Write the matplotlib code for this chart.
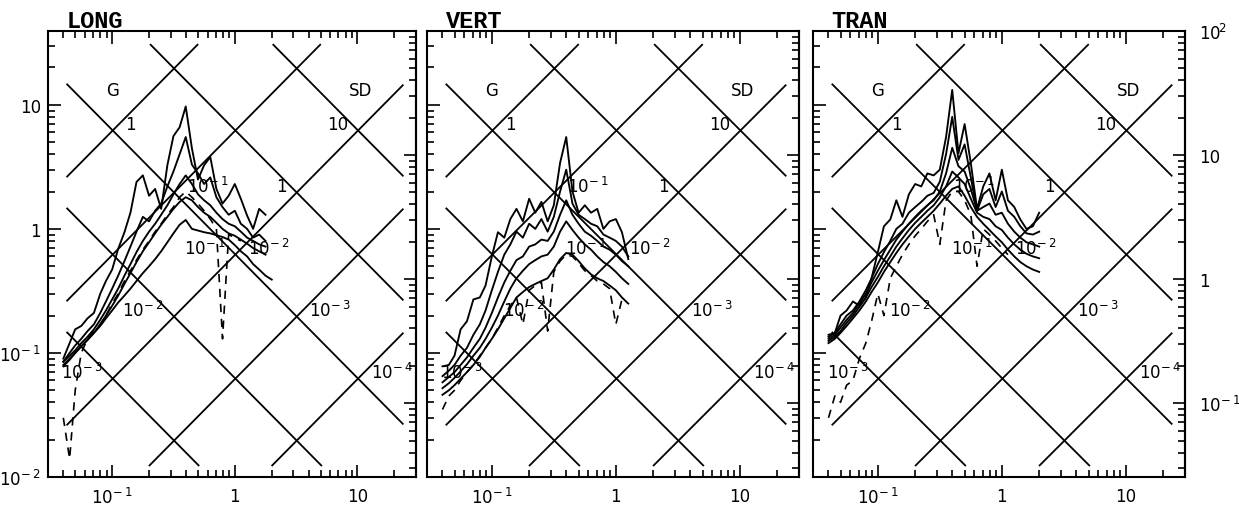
"""Tripartite response spectra (LONG / VERT / TRAN) for several damping levels."""

import numpy as np
import matplotlib.pyplot as plt
from matplotlib.ticker import FixedLocator, FixedFormatter, LogLocator, NullFormatter

plt.rcParams['font.family'] = ['DejaVu Sans']
plt.rcParams['mathtext.default'] = 'regular'

# periods (s), shared by all curves
periods = [0.040, 0.045, 0.050, 0.056, 0.063, 0.071, 0.080, 0.089, 0.100, 0.112,
           0.126, 0.141, 0.158, 0.178, 0.200, 0.224, 0.251, 0.282, 0.316, 0.355,
           0.398, 0.447, 0.501, 0.562, 0.631, 0.708, 0.794, 0.891, 1.00, 1.12,
           1.26, 1.41, 1.58, 1.78, 2.00]

# spectral velocity (in/s), one list per damping level
long_c1 = [0.09, 0.12, 0.155, 0.165, 0.19, 0.21, 0.30, 0.38, 0.47, 0.69,
           0.94, 1.35, 2.39, 2.7, 1.85, 2.1, 1.45, 3.26, 5.6, 6.6,
           9.7, 4.46, 2.5, 3.26, 3.8, 2.1, 1.6, 1.85, 2.3, 1.75,
           1.28, 1.0, 1.45, 1.3]
long_c2 = [0.085, 0.10, 0.115, 0.13, 0.15, 0.17, 0.21, 0.26, 0.33, 0.42,
           0.55, 0.72, 0.95, 1.25, 1.15, 1.4, 1.6, 2.2, 2.9, 4.0,
           5.5, 3.3, 2.8, 2.3, 2.6, 1.8, 1.5, 1.3, 1.4, 1.1,
           1.0, 0.85, 0.9, 0.8]
long_c3 = [0.085, 0.095, 0.105, 0.12, 0.135, 0.155, 0.185, 0.22, 0.27, 0.33,
           0.42, 0.52, 0.65, 0.8, 0.95, 1.1, 1.3, 1.55, 1.9, 2.3,
           2.7, 2.3, 1.9, 1.7, 1.55, 1.35, 1.2, 1.1, 1.05, 0.95,
           0.85, 0.8, 0.75, 0.72]
long_c4 = [0.08, 0.09, 0.10, 0.113, 0.127, 0.145, 0.17, 0.20, 0.24, 0.29,
           0.36, 0.44, 0.54, 0.66, 0.78, 0.92, 1.08, 1.25, 1.45, 1.65,
           1.8, 1.7, 1.5, 1.35, 1.25, 1.12, 1.0, 0.92, 0.88, 0.82,
           0.76, 0.7, 0.66, 0.62]
long_c5 = [0.078, 0.088, 0.10, 0.113, 0.128, 0.145, 0.165, 0.19, 0.22, 0.255,
           0.29, 0.33, 0.38, 0.44, 0.5, 0.57, 0.66, 0.78, 0.92, 1.08,
           1.18, 1.0, 0.97, 0.94, 0.92, 0.89, 0.86, 0.82, 0.74, 0.66,
           0.6, 0.52, 0.47, 0.42, 0.39]
long_dash = [0.03, 0.014, 0.05, 0.10, 0.13, 0.15, 0.17, 0.20, 0.25, 0.30,
             0.38, 0.46, 0.56, 0.68, 0.8, 0.95, 1.1, 1.3, 1.5, 1.8,
             2.0, 1.8, 1.6, 1.4, 1.2, 1.0, 0.13, 0.9, 0.85, 0.8]

vert_c1 = [0.078, 0.08, 0.095, 0.155, 0.18, 0.27, 0.28, 0.35, 0.6, 0.94,
           0.85, 1.2, 1.45, 1.15, 1.75, 1.35, 1.65, 1.15, 1.55, 3.4,
           5.5, 2.0, 1.35, 1.55, 1.35, 1.45, 1.0, 1.15, 1.2, 0.94,
           0.57]
vert_c2 = [0.065, 0.072, 0.08, 0.095, 0.11, 0.14, 0.17, 0.22, 0.32, 0.45,
           0.62, 0.75, 0.95, 0.85, 1.1, 1.0, 1.2, 0.95, 1.25, 2.0,
           3.0, 1.6, 1.3, 1.2, 1.1, 1.05, 0.9, 0.85, 0.8, 0.72,
           0.6]
vert_c3 = [0.058, 0.064, 0.07, 0.08, 0.092, 0.11, 0.13, 0.16, 0.21, 0.28,
           0.37, 0.46, 0.56, 0.6, 0.72, 0.75, 0.82, 0.8, 0.95, 1.3,
           1.7, 1.3, 1.1, 0.95, 0.88, 0.8, 0.72, 0.68, 0.62, 0.55,
           0.5]
vert_c4 = [0.052, 0.057, 0.063, 0.071, 0.081, 0.095, 0.11, 0.13, 0.16, 0.20,
           0.26, 0.33, 0.40, 0.46, 0.52, 0.56, 0.60, 0.62, 0.72, 0.95,
           1.15, 0.98, 0.85, 0.75, 0.68, 0.6, 0.54, 0.5, 0.45, 0.4,
           0.36]
vert_c5 = [0.046, 0.05, 0.055, 0.062, 0.07, 0.08, 0.093, 0.11, 0.13, 0.155,
           0.19, 0.23, 0.28, 0.31, 0.34, 0.36, 0.38, 0.40, 0.47, 0.57,
           0.64, 0.62, 0.55, 0.48, 0.43, 0.4, 0.38, 0.35, 0.32, 0.28,
           0.25]
vert_dash = [0.035, 0.045, 0.05, 0.06, 0.07, 0.08, 0.095, 0.11, 0.13, 0.16,
             0.20, 0.24, 0.28, 0.17, 0.32, 0.35, 0.37, 0.15, 0.45, 0.55,
             0.62, 0.6, 0.53, 0.46, 0.42, 0.38, 0.36, 0.33, 0.17, 0.27]

tran_c1 = [0.14, 0.145, 0.20, 0.22, 0.26, 0.24, 0.28, 0.40, 0.65, 1.05,
           1.19, 1.7, 1.25, 1.9, 2.3, 2.2, 2.8, 2.7, 3.0, 5.5,
           13.2, 4.07, 7.0, 3.4, 1.45, 2.2, 2.8, 1.7, 3.0, 1.7,
           1.5, 1.19, 1.0, 1.05, 1.35]
tran_c2 = [0.135, 0.145, 0.17, 0.20, 0.22, 0.26, 0.32, 0.40, 0.52, 0.65,
           0.8, 1.0, 1.1, 1.35, 1.5, 1.65, 1.85, 1.95, 2.4, 4.0,
           8.0, 3.6, 4.8, 2.6, 1.4, 1.9, 2.1, 1.5, 2.0, 1.4,
           1.25, 1.05, 0.92, 0.9, 0.95]
tran_c3 = [0.13, 0.14, 0.16, 0.185, 0.21, 0.25, 0.30, 0.37, 0.46, 0.56,
           0.68, 0.82, 0.95, 1.1, 1.25, 1.4, 1.55, 1.7, 2.0, 2.8,
           4.5, 3.2, 2.9, 2.1, 1.4, 1.5, 1.6, 1.3, 1.35, 1.1,
           0.95, 0.85, 0.78, 0.75, 0.72]
tran_c4 = [0.125, 0.135, 0.15, 0.175, 0.20, 0.235, 0.28, 0.34, 0.41, 0.50,
           0.6, 0.72, 0.84, 0.98, 1.12, 1.25, 1.4, 1.55, 1.8, 2.2,
           2.9, 2.6, 2.3, 1.75, 1.35, 1.25, 1.2, 1.05, 0.98, 0.85,
           0.75, 0.68, 0.63, 0.6, 0.58]
tran_c5 = [0.12, 0.13, 0.145, 0.165, 0.19, 0.22, 0.26, 0.31, 0.37, 0.45,
           0.54, 0.64, 0.75, 0.87, 1.0, 1.12, 1.25, 1.4, 1.6, 1.85,
           2.1, 2.2, 1.85, 1.5, 1.25, 1.1, 0.98, 0.87, 0.78, 0.68,
           0.6, 0.54, 0.5, 0.47, 0.45]
tran_dash = [0.03, 0.045, 0.04, 0.055, 0.06, 0.09, 0.12, 0.18, 0.30, 0.20,
             0.40, 0.50, 0.62, 0.75, 0.88, 1.0, 1.15, 1.3, 0.75, 1.7,
             2.0, 2.0, 1.7, 1.3, 0.5, 1.0, 0.9, 0.8, 0.7, 0.62]

panel_names = ['LONG', 'VERT', 'TRAN']

# diagonal grid: acceleration (g) and displacement (in) lines
g_values = [1, 1e-1, 1e-2, 1e-3, 1e-4]
g_labels = ['1', r'$10^{\!-1}$', r'$10^{\!-2}$', r'$10^{\!-3}$', r'$10^{\!-4}$']
sd_values = [10, 1, 1e-1, 1e-2, 1e-3]
sd_labels = ['10', '1', r'$10^{\!-1}$', r'$10^{\!-2}$', r'$10^{\!-3}$']

x_labels = [r'$10^{\!-1}$', '1', '10']
y_labels = [r'$10^{\!-2}$', r'$10^{\!-1}$', '1', '10']
cm_labels = [r'$10^{\!-1}$', '1', '10', r'$10^{\!2}$']

IN_PER_G = 386.1
CM_PER_IN = 2.54


def draw_grid(ax):
    """Draw the tripartite diagonals clipped to the inner box."""
    t0, t1, s0, s1 = 0.043, 23.4, 0.0124, 30.5
    lw = 1.3
    sd_ref = 0.1     # G labels sit where G lines cross SD=0.1
    g_ref = 0.01     # SD labels sit where SD lines cross G=0.01
    for g, lab in zip(g_values, g_labels):
        a = IN_PER_G * g / (2 * np.pi)
        lo, hi = max(t0, s0 / a), min(t1, s1 / a)
        ax.plot([lo, hi], [a * lo, a * hi], color='black', lw=lw)
        tc = np.sqrt(2 * np.pi * sd_ref / a)
        ax.annotate(lab, (tc, a * tc), xytext=(9, 5), textcoords='offset points',
                    ha='left', va='center', fontsize=12)
    a_ref = IN_PER_G * g_ref / (2 * np.pi)
    for d, lab in zip(sd_values, sd_labels):
        b = 2 * np.pi * d
        lo, hi = max(t0, b / s1), min(t1, b / s0)
        ax.plot([lo, hi], [b / lo, b / hi], color='black', lw=lw)
        tc = np.sqrt(b / a_ref)
        ax.annotate(lab, (tc, b / tc), xytext=(-7, 5), textcoords='offset points',
                    ha='right', va='center', fontsize=12)
    ax.text(0.1, 13.2, 'G', ha='center', va='center', fontsize=12)
    ax.text(10.5, 13.2, 'SD', ha='center', va='center', fontsize=12)


fig = plt.figure(figsize=(12.39, 5.10), dpi=100)
boxes = [[48 / 1239, 32 / 510, 368 / 1239, 446 / 510],
         [427 / 1239, 32 / 510, 372 / 1239, 446 / 510],
         [813 / 1239, 32 / 510, 372 / 1239, 446 / 510]]
solid = [[long_c1, long_c2, long_c3, long_c4, long_c5],
         [vert_c1, vert_c2, vert_c3, vert_c4, vert_c5],
         [tran_c1, tran_c2, tran_c3, tran_c4, tran_c5]]
dashed = [long_dash, vert_dash, tran_dash]

for i, name in enumerate(panel_names):
    ax = fig.add_axes(boxes[i])
    ax.set_xscale('log')
    ax.set_yscale('log')
    ax.set_xlim(0.03, 30)
    ax.set_ylim(0.01, 100 / CM_PER_IN)

    draw_grid(ax)
    for vals in solid[i]:
        ax.plot(periods[:len(vals)], vals, color='black', lw=1.35)
    dv = dashed[i]
    ax.plot(periods[:len(dv)], dv, color='black', lw=1.2, ls=(0, (5, 4)))

    ax.xaxis.set_major_locator(FixedLocator([0.1, 1, 10]))
    ax.xaxis.set_major_formatter(FixedFormatter(x_labels))
    ax.xaxis.set_minor_locator(LogLocator(base=10, subs=np.arange(2, 10), numticks=20))
    ax.xaxis.set_minor_formatter(NullFormatter())
    ax.yaxis.set_major_locator(FixedLocator([0.01, 0.1, 1, 10]))
    ax.yaxis.set_minor_locator(LogLocator(base=10, subs=np.arange(2, 10), numticks=20))
    ax.yaxis.set_minor_formatter(NullFormatter())
    if i == 0:
        ax.yaxis.set_major_formatter(FixedFormatter(y_labels))
    else:
        ax.yaxis.set_major_formatter(NullFormatter())
    ax.tick_params(which='both', direction='in', top=True, right=False, width=1.2,
                   labelsize=12)
    ax.tick_params(which='major', length=9)
    ax.tick_params(which='minor', length=5)
    ax.tick_params(axis='x', pad=7)
    ax.tick_params(axis='y', pad=5)
    for sp in ax.spines.values():
        sp.set_linewidth(1.5)

    # right axis in cm/s
    sec = ax.secondary_yaxis('right', functions=(lambda y: y * CM_PER_IN,
                                                 lambda y: y / CM_PER_IN))
    sec.yaxis.set_major_locator(FixedLocator([0.1, 1, 10, 100]))
    sec.yaxis.set_minor_locator(LogLocator(base=10, subs=np.arange(2, 10), numticks=20))
    sec.yaxis.set_minor_formatter(NullFormatter())
    if i == 2:
        sec.yaxis.set_major_formatter(FixedFormatter(cm_labels))
    else:
        sec.yaxis.set_major_formatter(NullFormatter())
    sec.tick_params(which='both', direction='in', width=1.2, labelsize=12, pad=10)
    sec.tick_params(which='major', length=9)
    sec.tick_params(which='minor', length=5)
    sec.spines['right'].set_linewidth(1.5)

    ax.text(0.05, 1.009, name, transform=ax.transAxes, va='baseline', ha='left',
            fontsize=17, fontweight='bold', family=['Liberation Mono', 'DejaVu Sans Mono'])

fig.savefig('out.png', dpi=100)
